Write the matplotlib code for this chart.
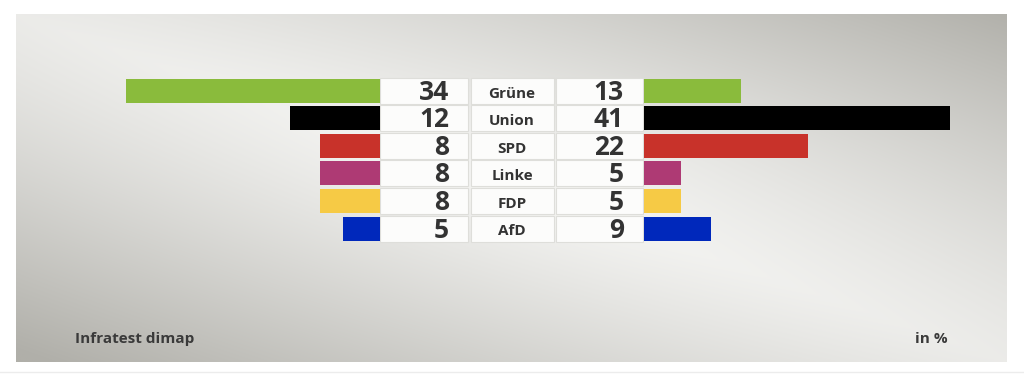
import numpy as np
import matplotlib
matplotlib.use("Agg")
import matplotlib.pyplot as plt
from matplotlib.patches import Rectangle

# ---- data ----
parties = ["Grüne", "Union", "SPD", "Linke", "FDP", "AfD"]
left_values = [34, 12, 8, 8, 8, 5]
right_values = [13, 41, 22, 5, 5, 9]
colors = ["#8abb3c", "#000000", "#c8322a", "#ae3a74", "#f6ca45", "#0028bb"]
source_label = "Infratest dimap"
unit_label = "in %"

# ---- layout (pixels) ----
W, H = 1024, 376
PITCH = 27.6
ROW0 = 90.5
SCALE = 7.46          # px per percentage point
PANEL = (16, 1007, 14, 362)  # x0, x1, y0, y1
LEFT_END = 380
RIGHT_START = 644
FONT = "Open Sans"
TXT = "#333333"


def ry(py):
    return (py - ROW0) / PITCH


fig = plt.figure(figsize=(W / 100, H / 100), dpi=100)
fig.patch.set_facecolor("white")

bg = fig.add_axes([0, 0, 1, 1])
bg.set_xlim(0, W)
bg.set_ylim(ry(H), ry(0))
bg.axis("off")

# background panel gradient
nx, ny = 400, 160
u = np.linspace(0, 1, nx)[None, :]
v = np.linspace(0, 1, ny)[:, None]
d = v - u
r = np.sqrt((u - 0.6) ** 2 + (v - 0.4) ** 2) / 0.7
t = np.clip(0.85 * np.abs(d) ** 1.2 + 0.15 * r, 0, 1)
light = np.array([246, 246, 244]) / 255
dark = np.array([176, 175, 169]) / 255
img = light[None, None, :] * (1 - t[..., None]) + dark[None, None, :] * t[..., None]
bg.imshow(img, extent=(PANEL[0], PANEL[1], ry(PANEL[3]), ry(PANEL[2])),
          aspect="auto", origin="upper", interpolation="bilinear", zorder=0)
bg.plot([0, W], [ry(372), ry(372)], color="#ececec", lw=1.0, zorder=1)

rows = np.arange(len(parties))

# white boxes
box_h = 26.0 / PITCH
for i in rows:
    for (x0, x1) in [(380, 468), (471, 554), (556, 643)]:
        bg.add_patch(Rectangle((x0, i - box_h / 2), x1 - x0, box_h,
                               facecolor="#fcfcfb", edgecolor="#dededa",
                               lw=0.8, zorder=2))

# numbers & names
for i, (p, lv, rv) in enumerate(zip(parties, left_values, right_values)):
    bg.text(449, i + 9.0 / PITCH, str(lv), ha="right", va="baseline",
            fontsize=19, fontweight="bold", color=TXT, family=FONT, zorder=3)
    bg.text(512, i + 7.0 / PITCH, p, ha="center", va="baseline",
            fontsize=11, fontweight="bold", color=TXT, family=FONT, zorder=3)
    bg.text(624, i + 9.0 / PITCH, str(rv), ha="right", va="baseline",
            fontsize=19, fontweight="bold", color=TXT, family=FONT, zorder=3)

bg.text(75, ry(343), source_label, ha="left", va="baseline", fontsize=11,
        fontweight="bold", color="#3a3a3a", family=FONT)
bg.text(948, ry(343), unit_label, ha="right", va="baseline", fontsize=11,
        fontweight="bold", color="#3a3a3a", family=FONT)

bar_h = 24.0 / PITCH

# left bars
axl = fig.add_axes([PANEL[0] / W, 0, (LEFT_END - PANEL[0]) / W, 1])
axl.set_facecolor("none")
axl.barh(rows, left_values, height=bar_h, color=colors, zorder=3)
axl.set_xlim((LEFT_END - PANEL[0]) / SCALE, 0)
axl.set_ylim(ry(H), ry(0))
axl.axis("off")

# right bars
axr = fig.add_axes([RIGHT_START / W, 0, (PANEL[1] - RIGHT_START) / W, 1])
axr.set_facecolor("none")
axr.barh(rows, right_values, height=bar_h, color=colors, zorder=3)
axr.set_xlim(0, (PANEL[1] - RIGHT_START) / SCALE)
axr.set_ylim(ry(H), ry(0))
axr.axis("off")

fig.savefig("out.png", dpi=100)
